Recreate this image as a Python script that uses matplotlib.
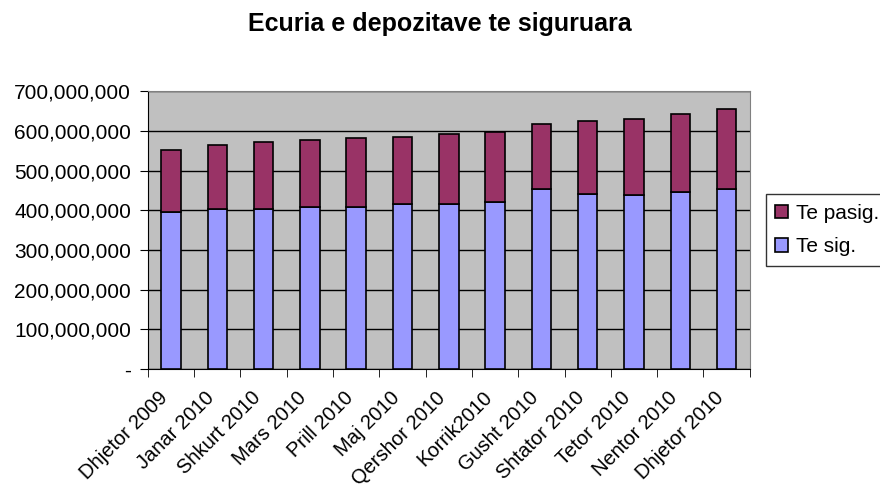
import matplotlib.pyplot as plt
import matplotlib.ticker as mticker
import matplotlib.transforms as mtransforms
import numpy as np

plt.rcParams['font.family'] = ['Liberation Sans', 'DejaVu Sans']

muajt = ['Dhjetor 2009', 'Janar 2010', 'Shkurt 2010', 'Mars 2010', 'Prill 2010',
         'Maj 2010', 'Qershor 2010', 'Korrik2010', 'Gusht 2010', 'Shtator 2010',
         'Tetor 2010', 'Nentor 2010', 'Dhjetor 2010']
te_sig = [396e6, 404e6, 404e6, 409e6, 409e6, 416e6, 416e6, 421e6, 454e6,
          442e6, 438e6, 446e6, 454e6]
totali = [551e6, 564e6, 572e6, 576e6, 581e6, 585e6, 593e6, 598e6, 618e6,
          626e6, 630e6, 642e6, 654e6]
te_pasig = [t - s for t, s in zip(totali, te_sig)]

fig = plt.figure(figsize=(8.8, 4.9), dpi=100)
ax = fig.add_axes([0.168, 0.247, 0.684, 0.567])
ax.set_facecolor('#C0C0C0')

x = np.arange(len(muajt))
w = 0.42
b1 = ax.bar(x, te_sig, w, color='#9999FF', edgecolor='black', linewidth=1.2,
            label='Te sig.', zorder=3)
b2 = ax.bar(x, te_pasig, w, bottom=te_sig, color='#993366', edgecolor='black',
            linewidth=1.2, label='Te pasig.', zorder=3)

ax.set_xlim(-0.5, len(muajt) - 0.5)
ax.set_ylim(0, 700e6)
ax.set_yticks(np.arange(0, 700e6 + 1, 100e6))
ax.yaxis.set_major_formatter(mticker.FuncFormatter(
    lambda v, p: '-' if v == 0 else f'{int(v):,}'))
ax.yaxis.grid(True, color='black', linewidth=1, zorder=1)

ax.set_xticks(x)
ax.set_xticklabels(muajt, rotation=45, ha='right', rotation_mode='anchor')
ax.set_xticks(np.arange(-0.5, len(muajt)), minor=True)
ax.tick_params(axis='x', which='major', length=0, pad=8, labelsize=14.5)
ax.tick_params(axis='x', which='minor', length=6, direction='out')
ax.tick_params(axis='y', labelsize=15, length=6, pad=6, direction='out')

# labels sit a little left and lower, as in the original
shift = mtransforms.ScaledTranslation(-0.13, -0.08, fig.dpi_scale_trans)
for lbl in ax.get_xticklabels():
    lbl.set_transform(lbl.get_transform() + shift)

for s in ['top', 'right']:
    ax.spines[s].set_color('#808080')
for s in ['left', 'bottom']:
    ax.spines[s].set_color('black')

fig.suptitle('Ecuria e depozitave te siguruara', fontsize=18, fontweight='bold',
             x=0.5, y=0.975)

leg = ax.legend(handles=[b2, b1], loc='center left', bbox_to_anchor=(1.027, 0.5),
                fontsize=15, frameon=True, fancybox=False, edgecolor='black',
                handlelength=0.6, handleheight=0.6, handletextpad=0.4,
                borderpad=0.45, labelspacing=0.7, borderaxespad=0)
leg.get_frame().set_linewidth(1)

fig.savefig('out.png', dpi=100)
